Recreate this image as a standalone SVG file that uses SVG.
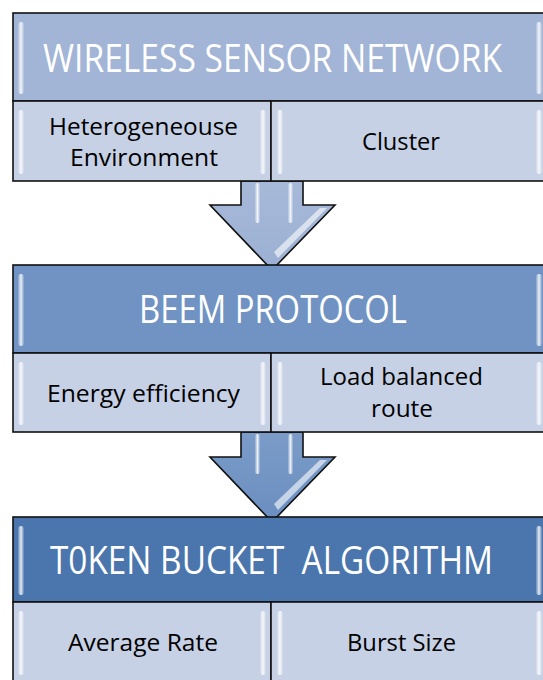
<svg xmlns="http://www.w3.org/2000/svg" width="543" height="680" viewBox="0 0 543 680">
<defs>
<style>
.box{stroke:#111;stroke-width:1.6}
.h1{fill:#a2b5d6}
.h2{fill:#7093c3}
.h3{fill:#4a76ad}
.cell{fill:#c6d1e5}
.ttl{font-family:"Open Sans","Noto Sans",sans-serif;fill:#fff;text-anchor:middle;font-size:38px}
.sub{font-family:"Open Sans","Noto Sans",sans-serif;fill:#000;text-anchor:middle;font-size:24px}
.arrow{stroke:#111;stroke-width:1.6;stroke-linejoin:miter}
.hl{fill:url(#bev)}
</style>
<linearGradient id="bev" x1="0" y1="0" x2="1" y2="0">
<stop offset="0" stop-color="#fff" stop-opacity="0.15"/>
<stop offset="0.5" stop-color="#fff" stop-opacity="0.85"/>
<stop offset="1" stop-color="#fff" stop-opacity="0.1"/>
</linearGradient>
<linearGradient id="a1" x1="0" y1="0" x2="0" y2="1">
<stop offset="0" stop-color="#a7b9d9"/>
<stop offset="1" stop-color="#9bb0d3"/>
</linearGradient>
<linearGradient id="a2" x1="0" y1="0" x2="0" y2="1">
<stop offset="0" stop-color="#7b9cc8"/>
<stop offset="1" stop-color="#6a8ec0"/>
</linearGradient>
</defs>

<g id="connectors">
<g id="arrow1">
<polygon class="arrow" fill="url(#a1)" points="241,181 303,181 303,205 335,205 272,270 210,205 241,205"/>
<rect class="hl" x="255" y="183" width="5" height="40" rx="2.5"/>
<rect class="hl" x="288" y="183" width="5" height="40" rx="2.5"/>
<polygon fill="#fff" opacity="0.6" points="320,208 327,208 278,258 274,252"/>
</g>
<g id="arrow2">
<polygon class="arrow" fill="url(#a2)" points="241,432 303,432 303,457 335,457 272,522 210,457 241,457"/>
<rect class="hl" x="255" y="434" width="5" height="40" rx="2.5"/>
<rect class="hl" x="288" y="434" width="5" height="40" rx="2.5"/>
<polygon fill="#fff" opacity="0.6" points="320,460 327,460 278,510 274,504"/>
</g>
</g>

<g id="node-wsn">
<rect class="box h1" x="13" y="13" width="540" height="88"/>
<rect class="hl" x="18" y="22" width="6" height="72" rx="3"/>
<rect class="hl" x="536" y="22" width="6" height="72" rx="3"/>
<text class="ttl" transform="translate(272.5,72) scale(0.9,1)" x="0" y="0" textLength="510" lengthAdjust="spacingAndGlyphs">WIRELESS SENSOR NETWORK</text>
</g>
<g id="node-hetero">
<rect class="box cell" x="13" y="101" width="258" height="80"/>
<rect class="hl" x="18" y="110" width="6" height="64" rx="3"/>
<rect class="hl" x="260" y="110" width="6" height="64" rx="3"/>
<text class="sub" x="143.5" y="135" textLength="189" lengthAdjust="spacingAndGlyphs">Heterogeneouse</text>
<text class="sub" x="144" y="166" textLength="148" lengthAdjust="spacingAndGlyphs">Environment</text>
</g>
<g id="node-cluster">
<rect class="box cell" x="271" y="101" width="282" height="80"/>
<rect class="hl" x="277" y="110" width="6" height="64" rx="3"/>
<rect class="hl" x="536" y="110" width="6" height="64" rx="3"/>
<text class="sub" x="401" y="150" textLength="78" lengthAdjust="spacingAndGlyphs">Cluster</text>
</g>

<g id="node-beem">
<rect class="box h2" x="13" y="265" width="540" height="88"/>
<rect class="hl" x="18" y="274" width="6" height="72" rx="3"/>
<rect class="hl" x="536" y="274" width="6" height="72" rx="3"/>
<text class="ttl" transform="translate(273,323) scale(0.88,1)" x="0" y="0" textLength="304.5" lengthAdjust="spacingAndGlyphs">BEEM PROTOCOL</text>
</g>
<g id="node-energy">
<rect class="box cell" x="13" y="353" width="258" height="79"/>
<rect class="hl" x="18" y="362" width="6" height="63" rx="3"/>
<rect class="hl" x="260" y="362" width="6" height="63" rx="3"/>
<text class="sub" x="143.5" y="402" textLength="193" lengthAdjust="spacingAndGlyphs">Energy efficiency</text>
</g>
<g id="node-load">
<rect class="box cell" x="271" y="353" width="282" height="79"/>
<rect class="hl" x="277" y="362" width="6" height="63" rx="3"/>
<rect class="hl" x="536" y="362" width="6" height="63" rx="3"/>
<text class="sub" x="401.5" y="385" textLength="163" lengthAdjust="spacingAndGlyphs">Load balanced</text>
<text class="sub" x="402" y="417" textLength="62" lengthAdjust="spacingAndGlyphs">route</text>
</g>

<g id="node-token">
<rect class="box h3" x="13" y="517" width="540" height="85"/>
<rect class="hl" x="18" y="526" width="6" height="69" rx="3"/>
<rect class="hl" x="536" y="526" width="6" height="69" rx="3"/>
<text class="ttl" transform="translate(271.5,574) scale(0.886,1)" x="0" y="0" textLength="500" lengthAdjust="spacingAndGlyphs" xml:space="preserve">T0KEN BUCKET  ALGORITHM</text>
</g>
<g id="node-avg">
<rect class="box cell" x="13" y="602" width="258" height="90"/>
<rect class="hl" x="18" y="611" width="6" height="64" rx="3"/>
<rect class="hl" x="260" y="611" width="6" height="64" rx="3"/>
<text class="sub" x="143" y="651" textLength="150" lengthAdjust="spacingAndGlyphs">Average Rate</text>
</g>
<g id="node-burst">
<rect class="box cell" x="271" y="602" width="282" height="90"/>
<rect class="hl" x="277" y="611" width="6" height="64" rx="3"/>
<rect class="hl" x="536" y="611" width="6" height="64" rx="3"/>
<text class="sub" x="401.5" y="651" textLength="109" lengthAdjust="spacingAndGlyphs">Burst Size</text>
</g>
</svg>
